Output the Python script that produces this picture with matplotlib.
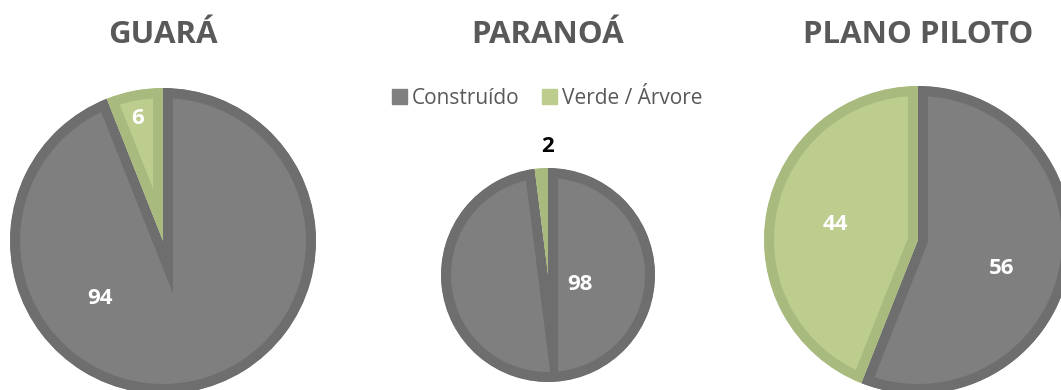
import matplotlib.pyplot as plt

# Land cover share (%) per region
regions = ['GUARÁ', 'PARANOÁ', 'PLANO PILOTO']
construido = [94, 98, 56]
verde = [6, 2, 44]
categories = ['Construído', 'Verde / Árvore']

# pie layout in pixels (x, y from top, radius)
centers = [(163, 241), (548, 275), (918, 240)]
radii = [153, 107, 154]
# label offsets from pie centre, in pixels (dx, dy downwards)
label_offsets = [[(-63, 57), (-25, -123)],
                 [(32, 10), (0, -128)],
                 [(84, 28), (-83, -15)]]
label_colors = [['white', 'white'], ['white', 'black'], ['white', 'white']]

fills = ['#7f7f7f', '#bccd8d']
borders = ['#6e6e6e', '#a9ba7f']

W, H = 1061, 390
fig = plt.figure(figsize=(W / 100, H / 100), dpi=100)
ax = fig.add_axes([0, 0, 1, 1])

font = 'Open Sans'
border_px = 10
lw = 2 * border_px * 72 / 100  # clipped to the wedge -> inner border only

for i, name in enumerate(regions):
    cx, cy = centers[i]
    wedges, _ = ax.pie([construido[i], verde[i]], colors=fills,
                       startangle=90, counterclock=False,
                       center=(cx, H - cy), radius=radii[i], frame=True)
    for w, ec in zip(wedges, borders):
        w.set_edgecolor(ec)
        w.set_linewidth(lw)
        w.set_clip_on(True)
        w.set_clip_path(w)
    for val, (dx, dy), col in zip([construido[i], verde[i]], label_offsets[i], label_colors[i]):
        ax.text(cx + dx, H - cy - dy, str(val), color=col, fontsize=16,
                fontweight='bold', family=font, ha='center', va='center')
    ax.text(cx, H - 35, name, fontsize=22.5, fontweight='bold', color='#595959',
            family=font, ha='center', va='center')

ax.set_xlim(0, W)
ax.set_ylim(0, H)
ax.set_aspect('equal')
ax.axis('off')

# legend
handles = [plt.Rectangle((0, 0), 1, 1, color=c) for c in fills]
fig.legend(handles, categories, loc='center', bbox_to_anchor=(547 / W, 1 - 98 / H),
           ncol=2, frameon=False, prop={'family': font, 'size': 15},
           handlelength=0.72, handleheight=0.72, handletextpad=0.25,
           columnspacing=1.05, labelcolor='#595959')

fig.savefig('out.png', dpi=100)
